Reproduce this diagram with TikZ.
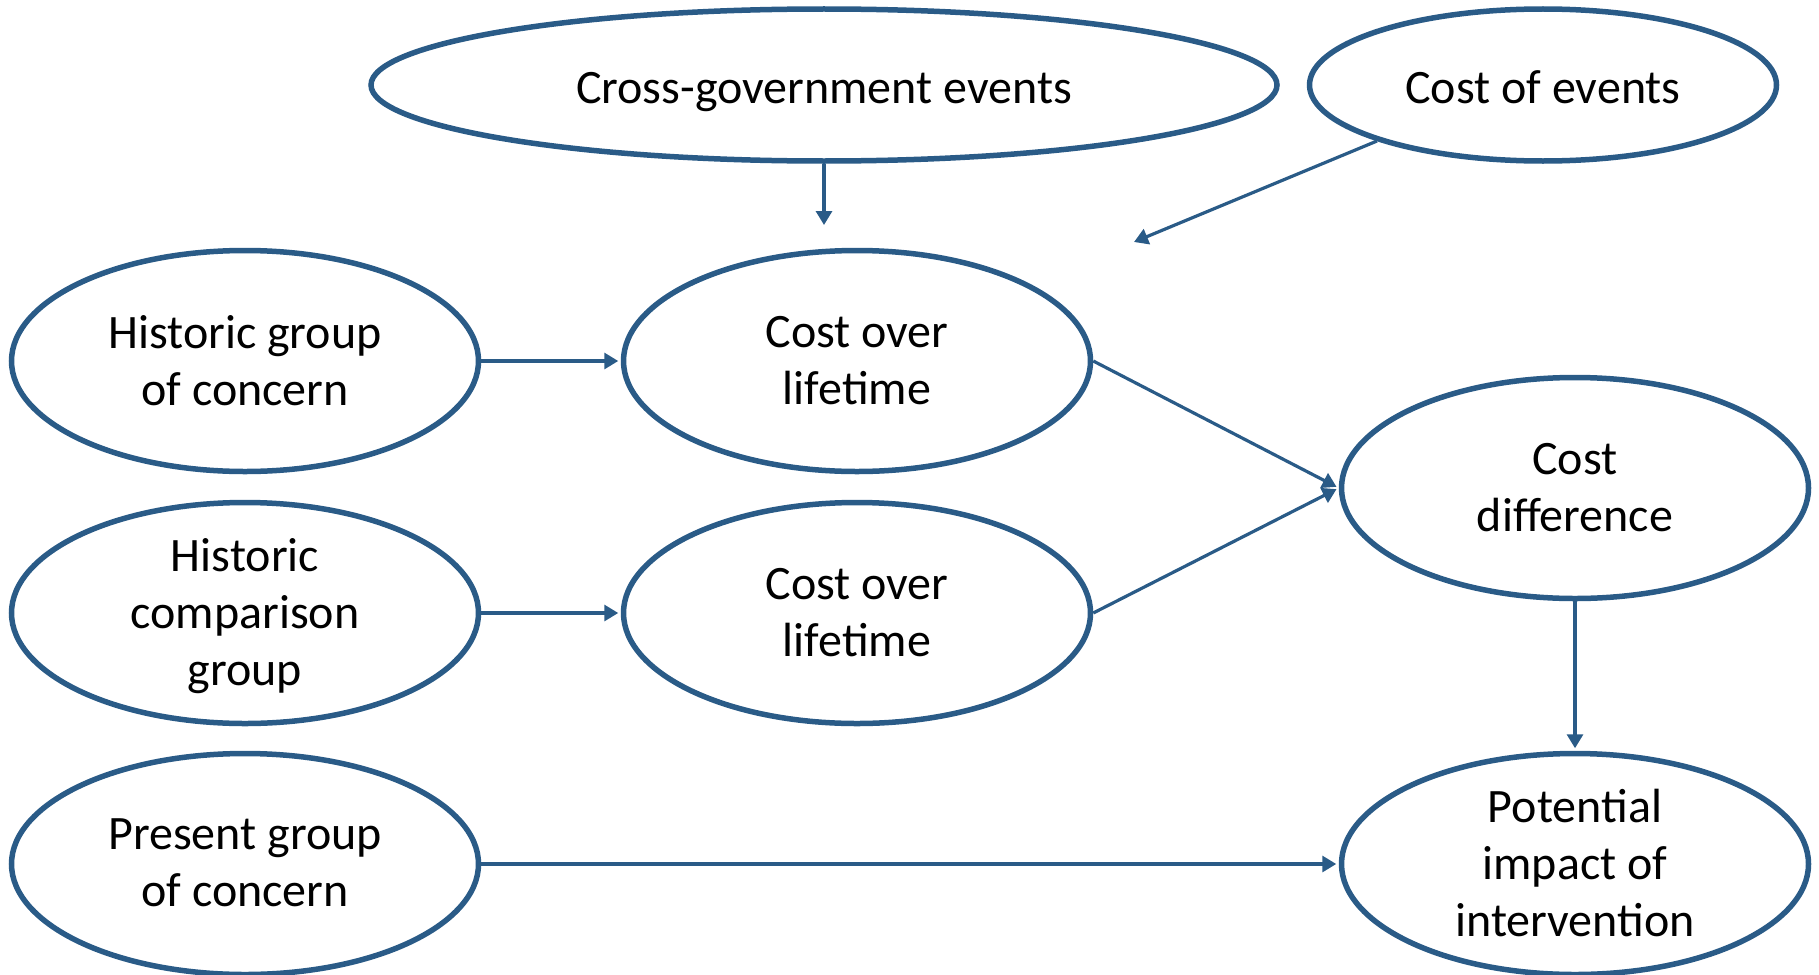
\documentclass[tikz,border=0pt]{standalone}
\usepackage{fontspec}
\setmainfont{Carlito}
\usetikzlibrary{shapes.geometric,arrows.meta}
\definecolor{flowblue}{HTML}{2A5B87}
\begin{document}
\begin{tikzpicture}[x=1pt,y=-1pt,
  bubble/.style={ellipse, draw=flowblue, line width=5.5pt, inner sep=0pt,
    align=center, font=\fontsize{48}{57}\selectfont, text depth=2pt,
    minimum width=467pt, minimum height=221pt},
  oneline/.style={minimum height=152pt, text height=48pt, text depth=12pt},
  link/.style={draw=flowblue, line width=3.2pt,
    -{Triangle[length=14pt,width=16pt]}},
  tonode/.style={link, shorten >=2.5pt}]
\useasboundingbox (0,0) rectangle (1819,974);
% top row
\node[bubble, oneline, minimum width=906pt] (events) at (824,85) {Cross-government events};
\node[bubble, oneline] (costev) at (1543,85) {Cost of events};
% left column
\node[bubble] (hist) at (245,361) {Historic group\\of concern};
\node[bubble] (comp) at (245,613) {Historic\\comparison\\group};
\node[bubble] (pres) at (245,864) {Present group\\of concern};
% middle column
\node[bubble] (life1) at (857,361) {Cost over\\lifetime};
\node[bubble] (life2) at (857,613) {Cost over\\lifetime};
% right column
\node[bubble] (diff) at (1575,488) {Cost\\difference};
\node[bubble] (impact) at (1575,864) {Potential\\impact of\\intervention};
% free arrow ends below the top row
\coordinate (evend) at (824,225);
\coordinate (ceend) at (1134,242);
\coordinate (cestart) at (1377,141);
% connectors
\draw[link] (events.south) -- (evend);
\draw[link] (cestart) -- (ceend);
\draw[tonode] (hist.east) -- (life1.west);
\draw[tonode] (comp.east) -- (life2.west);
\draw[tonode] (life1.east) -- (diff.west);
\draw[tonode] (life2.east) -- (diff.west);
\draw[tonode] (diff.south) -- (impact.north);
\draw[tonode] (pres.east) -- (impact.west);
\end{tikzpicture}
\end{document}
